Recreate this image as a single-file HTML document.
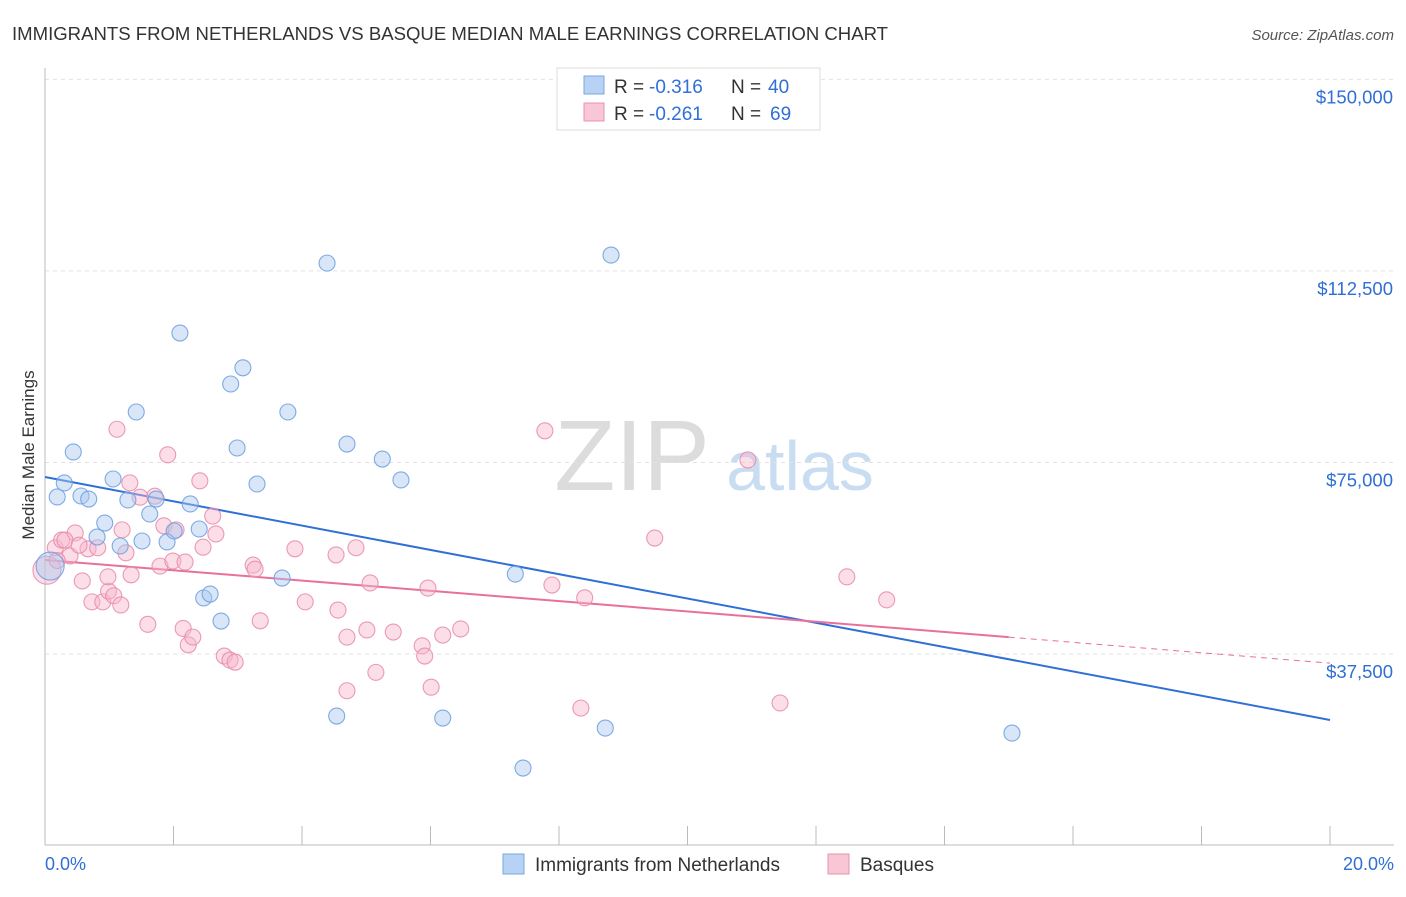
<!DOCTYPE html>
<html><head><meta charset="utf-8"><style>
body{margin:0;background:#fff;font-family:"Liberation Sans",sans-serif;}
svg text{font-family:"Liberation Sans",sans-serif;}
</style></head><body>
<svg id="chart" width="1406" height="892" xmlns="http://www.w3.org/2000/svg">
<text x="12" y="40" font-size="18.5" fill="#333" textLength="876" lengthAdjust="spacingAndGlyphs">IMMIGRANTS FROM NETHERLANDS VS BASQUE MEDIAN MALE EARNINGS CORRELATION CHART</text>
<text x="1394" y="40" font-size="15" fill="#555" font-style="italic" text-anchor="end">Source: ZipAtlas.com</text>
<text x="34" y="455" font-size="17" fill="#333" text-anchor="middle" transform="rotate(-90 34 455)">Median Male Earnings</text>
<g>
<text x="632" y="490" font-size="100" fill="#dcdcdc" font-family="Liberation Serif, serif" text-anchor="middle">ZIP</text>
<text x="800" y="490" font-size="70" fill="#c8dcf2" text-anchor="middle">atlas</text>
</g>
<g id="grid"></g><g id="axes"></g><g id="trends"></g><g id="pts"></g>
<g>
<rect x="557" y="68" width="263" height="62" fill="#fff" stroke="#ddd"/>
<rect x="584" y="76" width="20" height="18" fill="#b7d2f5" stroke="#7aa8e0"/>
<rect x="584" y="103" width="20" height="18" fill="#f9c6d6" stroke="#e892b0"/>
<text x="614" y="93" font-size="19" fill="#333">R =</text>
<text x="649" y="93" font-size="19" fill="#2f6fd6">-0.316</text>
<text x="731" y="93" font-size="19" fill="#333">N =</text>
<text x="768" y="93" font-size="19" fill="#2f6fd6">40</text>
<text x="614" y="120" font-size="19" fill="#333">R =</text>
<text x="649" y="120" font-size="19" fill="#2f6fd6">-0.261</text>
<text x="731" y="120" font-size="19" fill="#333">N =</text>
<text x="770" y="120" font-size="19" fill="#2f6fd6">69</text>
</g>
<g>
<rect x="503" y="854" width="21" height="20" fill="#b7d2f5" stroke="#7aa8e0"/>
<text x="535" y="871" font-size="19" fill="#333">Immigrants from Netherlands</text>
<rect x="828" y="854" width="21" height="20" fill="#f9c6d6" stroke="#e892b0"/>
<text x="860" y="871" font-size="19" fill="#333">Basques</text>
</g>
</svg>
<script>
const yTicks=[37500,75000,112500,150000];
const yTickLabels=["$37,500","$75,000","$112,500","$150,000"];
const xTickVals=[0,2,4,6,8,10,12,14,16,18,20];
const blueX=[0.19,0.30,0.44,0.56,0.68,0.81,0.93,1.06,1.17,1.29,1.42,1.51,1.63,1.73,1.90,2.01,2.10,2.26,2.40,2.47,2.57,2.74,2.89,2.99,3.08,3.30,3.69,3.78,4.39,4.54,4.70,5.25,5.54,6.19,7.32,7.44,8.72,8.81,15.05,0.08];
const blueY=[68240,70980,77050,68430,67840,60400,63140,71760,58640,67650,84880,59620,64910,67840,59430,61580,100340,66870,61970,48460,49240,43950,90360,77830,93540,70780,52370,84880,114030,25350,78610,75670,71570,24960,53150,15170,22990,115600,22010,54720];
const pinkX=[0.03,0.16,0.26,0.39,0.47,0.58,0.67,0.73,0.82,0.90,0.99,1.07,1.18,1.26,1.34,1.12,1.32,1.48,1.60,1.71,1.79,1.85,1.91,1.99,2.04,2.15,2.18,2.23,2.30,2.41,2.46,2.61,2.66,2.79,2.88,2.96,3.24,3.27,3.35,3.89,4.05,4.53,4.56,4.70,4.70,4.84,5.01,5.06,5.15,5.42,5.87,5.91,5.96,6.01,6.19,6.47,7.78,7.89,8.34,8.40,9.49,10.94,11.44,12.48,13.10,0.19,0.31,0.53,0.98,1.20];
const pinkY=[53900,58300,59800,56700,61200,51800,58100,47700,58300,47700,49800,48900,47100,57300,53000,81500,71000,68200,43300,68400,54700,62600,76500,55700,61800,42500,55500,39300,40800,71400,58400,64500,61000,37100,36300,35900,54900,54100,44000,58100,47700,56900,46100,40800,30300,58300,42200,51400,33900,41800,39100,37100,50400,31000,41200,42400,81200,51000,26900,48500,60200,75500,27900,52600,48100,55800,59800,58800,52600,61800];
const blueTrendX=[0,20], blueTrendY=[72150,24570];
const pinkTrendX=[0,15,20], pinkTrendY=[55900,40800,35700];
const X=v=>45+v*64.25, Y=v=>845.5-v/195.8;
const NS="http://www.w3.org/2000/svg";
function mk(p,t,a){const e=document.createElementNS(NS,t);for(const k in a)e.setAttribute(k,a[k]);document.getElementById(p).appendChild(e);return e;}
yTicks.forEach((t,i)=>{
 const l=mk('grid','line',{x1:45,x2:1394,y1:Y(t),y2:Y(t),stroke:'#e2e2e2','stroke-dasharray':'4,4'});
 
 
 const tx=mk('grid','text',{x:1393,y:Y(t)+24,'font-size':18.5,fill:'#2f6fd6','text-anchor':'end'});tx.textContent=yTickLabels[i];
 
 
});
const ax=mk('axes','line',{x1:45,x2:45,y1:68,y2:845,stroke:'#bbb'});


const bx=mk('axes','line',{x1:45,x2:1394,y1:845,y2:845,stroke:'#bbb'});


xTickVals.forEach(v=>{const t=mk('axes','line',{x1:X(v),x2:X(v),y1:826,y2:845,stroke:'#bbb'});
 
 });
const l0=mk('axes','text',{x:45,y:870,'font-size':18,fill:'#2f6fd6'});l0.textContent='0.0%';


const l1=mk('axes','text',{x:1394,y:870,'font-size':18,fill:'#2f6fd6','text-anchor':'end'});l1.textContent='20.0%';


function pts(xs,ys,fill,stroke,name){xs.forEach((x,i)=>{const big=(x<0.1);
 const c=mk('pts','circle',{cx:X(x),cy:Y(ys[i]),r:big?14:8,fill:fill,'fill-opacity':0.45,stroke:stroke,'stroke-width':1.1,'stroke-opacity':0.85});
 
 });}
pts(pinkX,pinkY,'#f7b6cb','#e88aa8','basques-point');
pts(blueX,blueY,'#a9c8f0','#6a9de0','netherlands-point');
const bt=mk('trends','line',{x1:X(blueTrendX[0]),y1:Y(blueTrendY[0]),x2:X(blueTrendX[1]),y2:Y(blueTrendY[1]),stroke:'#2f6fd6','stroke-width':2});


const pt=mk('trends','line',{x1:X(pinkTrendX[0]),y1:Y(pinkTrendY[0]),x2:X(pinkTrendX[1]),y2:Y(pinkTrendY[1]),stroke:'#e8709a','stroke-width':2});


const pd=mk('trends','line',{x1:X(pinkTrendX[1]),y1:Y(pinkTrendY[1]),x2:X(pinkTrendX[2]),y2:Y(pinkTrendY[2]),stroke:'#e8709a','stroke-width':1,'stroke-dasharray':'6,5'});


</script>
</body></html>
